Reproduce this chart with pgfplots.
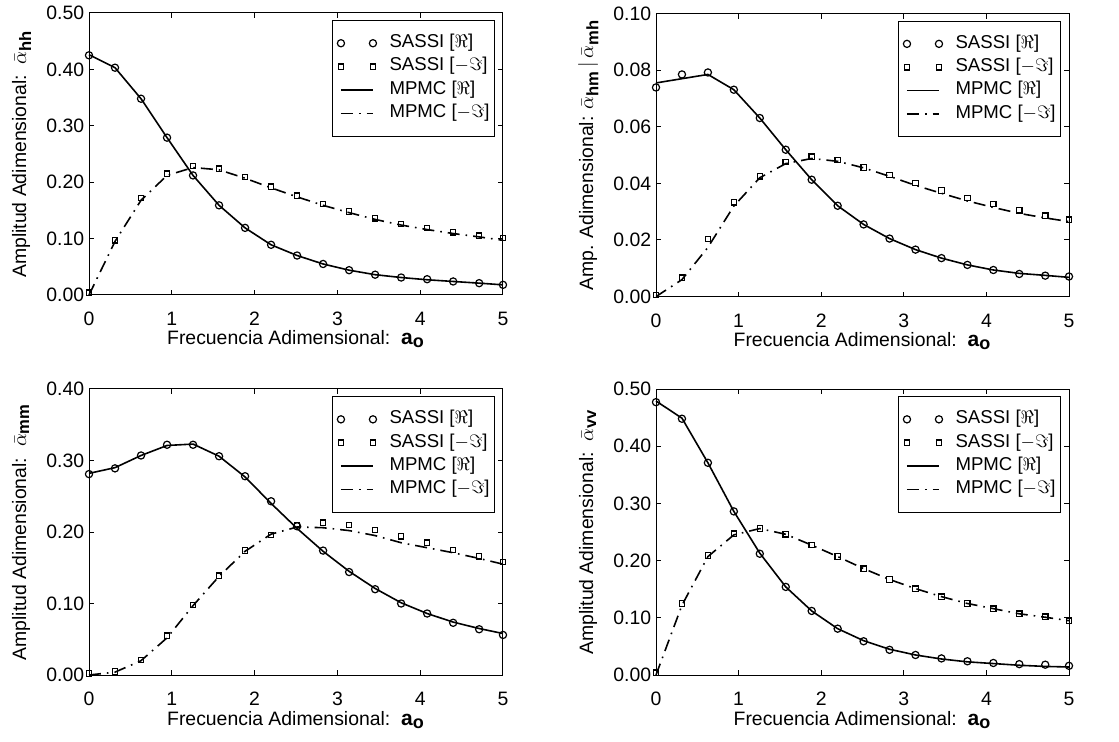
\documentclass[border=0pt]{standalone}
\usepackage{fontspec}
\setmainfont{Liberation Sans}
\usepackage{pgfplots}
\usepackage{pgfplotstable}
\pgfplotsset{compat=1.18}

\pgfplotstableread{
x sr si mr mi
0.0000 0.425 0.004 0.426 0.000
0.3142 0.403 0.097 0.403 0.095
0.6283 0.348 0.172 0.348 0.168
0.9425 0.279 0.215 0.279 0.212
1.2566 0.212 0.229 0.212 0.226
1.5708 0.159 0.224 0.159 0.222
1.8850 0.119 0.209 0.119 0.207
2.1991 0.089 0.192 0.089 0.190
2.5133 0.070 0.176 0.070 0.174
2.8274 0.055 0.161 0.055 0.159
3.1416 0.044 0.148 0.044 0.146
3.4558 0.036 0.136 0.036 0.134
3.7699 0.031 0.126 0.031 0.124
4.0841 0.028 0.119 0.027 0.116
4.3982 0.024 0.111 0.024 0.109
4.7124 0.021 0.105 0.021 0.103
5.0000 0.018 0.101 0.018 0.097
}\tl

\pgfplotstableread{
x sr si mr mi
0.0000 0.0739 0.0006 0.0755 0.0000
0.3142 0.0785 0.0067 0.0770 0.0060
0.6283 0.0792 0.0204 0.0785 0.0174
0.9425 0.0731 0.0333 0.0731 0.0320
1.2566 0.0631 0.0425 0.0631 0.0420
1.5708 0.0519 0.0476 0.0519 0.0470
1.8850 0.0413 0.0494 0.0413 0.0488
2.1991 0.0321 0.0482 0.0321 0.0478
2.5133 0.0255 0.0456 0.0255 0.0455
2.8274 0.0205 0.0429 0.0205 0.0425
3.1416 0.0166 0.0401 0.0166 0.0393
3.4558 0.0136 0.0375 0.0136 0.0365
3.7699 0.0112 0.0349 0.0112 0.0338
4.0841 0.0094 0.0327 0.0094 0.0315
4.3982 0.0080 0.0305 0.0082 0.0294
4.7124 0.0074 0.0286 0.0075 0.0278
5.0000 0.0071 0.0272 0.0068 0.0265
}\tr

\pgfplotstableread{
x sr si mr mi
0.0000 0.281 0.002 0.282 0.000
0.3142 0.289 0.005 0.290 0.004
0.6283 0.307 0.021 0.307 0.020
0.9425 0.322 0.055 0.321 0.052
1.2566 0.322 0.098 0.323 0.097
1.5708 0.306 0.139 0.306 0.138
1.8850 0.278 0.174 0.277 0.173
2.1991 0.243 0.196 0.240 0.197
2.5133 0.208 0.210 0.205 0.207
2.8274 0.174 0.213 0.173 0.206
3.1416 0.144 0.210 0.145 0.202
3.4558 0.120 0.203 0.121 0.195
3.7699 0.100 0.194 0.101 0.185
4.0841 0.086 0.185 0.086 0.178
4.3982 0.073 0.175 0.074 0.171
4.7124 0.064 0.166 0.065 0.163
5.0000 0.056 0.158 0.058 0.155
}\bl

\pgfplotstableread{
x sr si mr mi
0.0000 0.477 0.004 0.479 0.000
0.3142 0.448 0.125 0.449 0.122
0.6283 0.371 0.209 0.371 0.207
0.9425 0.286 0.247 0.286 0.245
1.2566 0.212 0.256 0.213 0.256
1.5708 0.154 0.246 0.154 0.246
1.8850 0.112 0.227 0.112 0.227
2.1991 0.081 0.207 0.081 0.207
2.5133 0.059 0.186 0.060 0.186
2.8274 0.044 0.167 0.045 0.167
3.1416 0.035 0.151 0.035 0.151
3.4558 0.029 0.137 0.028 0.137
3.7699 0.024 0.125 0.023 0.125
4.0841 0.021 0.116 0.020 0.116
4.3982 0.019 0.107 0.017 0.107
4.7124 0.018 0.102 0.015 0.101
5.0000 0.016 0.095 0.014 0.095
}\br

\newcommand{\sub}[1]{\mbox{\fontsize{8.3}{9}\selectfont\bfseries #1}}

\pgfplotsset{
  myaxis/.style={
    scale only axis, width=206.5pt,
    xmin=0, xmax=5, xtick={0,1,2,3,4,5}, ymin=0,
    clip=false,
    axis line style={line width=0.5pt},
    tick style={line width=0.5pt, black},
    tick align=inside, major tick length=2.5pt,
    xtick pos=both, ytick pos=both,
    xticklabel pos=lower, yticklabel pos=left,
    /pgf/number format/assume math mode=true,
    y tick label style={/pgf/number format/fixed, /pgf/number format/fixed zerofill, /pgf/number format/precision=2, inner sep=0pt, xshift=-2.2pt},
    x tick label style={inner sep=0pt, yshift=-8.5pt},
    every axis y label/.style={at={(axis description cs:-0.152,0.5)}, rotate=90, anchor=base},
    every axis x label/.style={at={(axis description cs:0.5,0)}, anchor=base, yshift=-25pt},
    xlabel={Frecuencia Adimensional:\ \ {\fontsize{10.5}{12}\selectfont\bfseries a}$_{\mbox{\fontsize{9}{9}\selectfont\bfseries o}}$},
    legend cell align=left,
    legend style={at={(0.981,0.975)}, anchor=north east, draw=black, line width=0.5pt,
      font=\fontsize{9.3}{11}\selectfont,
      inner xsep=2.5pt, inner ysep=5.5pt, row sep=0pt,
      nodes={inner sep=0pt, text height=8pt, text depth=3.7pt},
      /tikz/every odd column/.append style={column sep=6.5pt}},
  },
  sassir/.style={only marks, mark=o, mark size=1.8pt, line width=0.6pt, black,
    legend image code/.code={\draw[##1] plot coordinates {(0pt,0pt) (16pt,0pt)};}},
  sassii/.style={only marks, mark=square, mark size=1.35pt, line width=0.6pt, black,
    legend image code/.code={\draw[##1] plot coordinates {(0pt,0pt) (16pt,0pt)};}},
  mpmcr/.style={no marks, solid, line width=0.8pt, black,
    legend image code/.code={\draw[##1] (0pt,0pt) -- (16pt,0pt);}},
  mpmci/.style={no marks, line width=0.8pt, black, dash pattern=on 6pt off 3pt on 0.8pt off 3pt,
    legend image code/.code={\draw[##1] (0pt,0pt) -- (16pt,0pt);}},
}

\newcommand{\fourplots}[1]{%
  \addplot[sassir] table[x=x,y=sr]{#1};
  \addplot[sassii] table[x=x,y=si]{#1};
  \addplot[mpmcr] table[x=x,y=mr]{#1};
  \addplot[mpmci] table[x=x,y=mi]{#1};
  \legend{SASSI [$\Re$], SASSI [$-\Im$], MPMC [$\Re$], MPMC [$-\Im$]}
}

\begin{document}
\fontsize{9.7}{11.6}\selectfont
\begin{tikzpicture}
\useasboundingbox (0,0) rectangle (559.5pt,-371pt);

\begin{axis}[myaxis, at={(44.5pt,-147.5pt)}, anchor=south west, width=207pt, height=141pt,
  ymax=0.5, ytick={0,0.1,0.2,0.3,0.4,0.5},
  ylabel={Amplitud Adimensional:\ \ $\bar{\alpha}_{\sub{hh}}$}]
\fourplots{\tl}
\end{axis}

\begin{axis}[myaxis, at={(328pt,-148.3pt)}, anchor=south west, height=141.5pt,
  ymax=0.1, ytick={0,0.02,0.04,0.06,0.08,0.1},
  ylabel={Amp. Adimensional: $\bar{\alpha}_{\sub{hm}}\,|\,\bar{\alpha}_{\sub{mh}}$}]
\fourplots{\tr}
\end{axis}

\begin{axis}[myaxis, at={(44.5pt,-337.5pt)}, anchor=south west, width=207pt, height=143pt,
  ymax=0.4, ytick={0,0.1,0.2,0.3,0.4},
  ylabel={Amplitud Adimensional:\ \ $\bar{\alpha}_{\sub{mm}}$}]
\fourplots{\bl}
\end{axis}

\begin{axis}[myaxis, at={(328pt,-337.5pt)}, anchor=south west, height=143pt,
  ymax=0.5, ytick={0,0.1,0.2,0.3,0.4,0.5},
  ylabel={Amplitud Adimensional:\ \ $\bar{\alpha}_{\sub{vv}}$}]
\fourplots{\br}
\end{axis}
\end{tikzpicture}
\end{document}
